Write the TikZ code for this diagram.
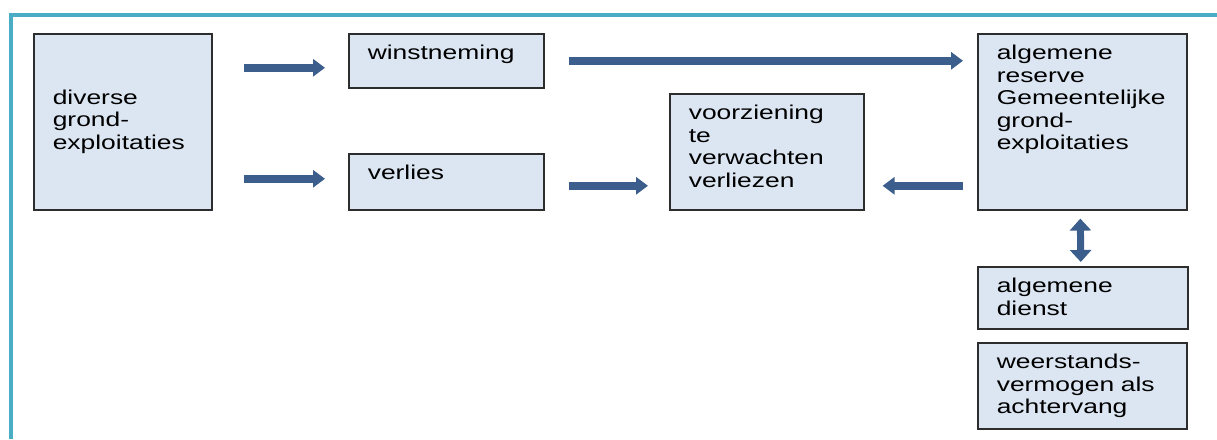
\documentclass[tikz,border=0pt]{standalone}
\usepackage{fontspec}
\setmainfont[FakeStretch=1.32]{Liberation Sans}
\usetikzlibrary{arrows.meta}

\definecolor{postfill}{RGB}{220,230,242}
\definecolor{postline}{RGB}{45,45,45}
\definecolor{flowblue}{RGB}{60,94,140}
\definecolor{framecol}{RGB}{75,172,198}

\newcommand{\postfont}{\fontsize{20}{22.5}\selectfont}

\begin{document}
\begin{tikzpicture}[x=1pt,y=-1pt,
        post/.style={draw=postline,fill=postfill,line width=1.6pt,anchor=north west,align=left,inner xsep=19pt,inner ysep=11pt,text=black,font=\postfont},
        tall/.style={text height=15pt,text depth=#1},
        flow/.style={draw=flowblue,line width=7.5pt,-{Triangle[length=12pt,width=17pt]}},
        both/.style={draw=flowblue,line width=7pt,{Triangle[length=12pt,width=21pt]}-{Triangle[length=12pt,width=21pt]}},
        frame/.style={draw=framecol,line width=3.5pt}
      ]
      \useasboundingbox (0,0) rectangle (1217,439);
      \draw[frame] (11,439) -- (11,15) -- (1217,15);

      \node[post,text width=140pt,minimum height=176pt] (div) at (33,33) {diverse\\grond-\\exploitaties};
      \node[post,tall=17pt,text width=157pt] (win) at (348,33) {winstneming};
      \node[post,tall=19pt,text width=157pt] (ver) at (348,153) {verlies};
      \node[post,tall=79pt,text width=156pt] (voor) at (669,93) {voorziening\\te\\verwachten\\verliezen};
      \node[post,tall=139pt,text width=171pt] (alg) at (977,33) {algemene\\reserve\\Gemeentelijke\\grond-\\exploitaties};
      \node[post,tall=25pt,text width=172pt] (dienst) at (977,266) {algemene\\dienst};
      \node[post,tall=49pt,text width=171pt] (weer) at (977,342) {weerstands-\\vermogen als\\achtervang};

      \draw[flow] ([xshift=31pt,yshift=-7pt]div.east |- win.west) -- ([xshift=-23pt,yshift=-7pt]win.west);
      \draw[flow] ([xshift=31pt,yshift=3pt]div.east |- ver.west) -- ([xshift=-23pt,yshift=3pt]ver.west);
      \draw[flow] ([xshift=24pt]win.east) -- ([xshift=-14pt]win.east -| alg.west);
      \draw[flow] ([xshift=24pt,yshift=-4pt]ver.east) -- ([xshift=-21pt,yshift=-4pt]ver.east -| voor.west);
      \draw[flow] ([xshift=-14pt,yshift=-4pt]ver.east -| alg.west) -- ([xshift=18pt,yshift=-4pt]ver.east -| voor.east);
      \draw[both] ([xshift=-2pt,yshift=-8pt]alg.south) -- ([xshift=-2pt,yshift=4pt]dienst.north);
    \end{tikzpicture}
\end{document}
